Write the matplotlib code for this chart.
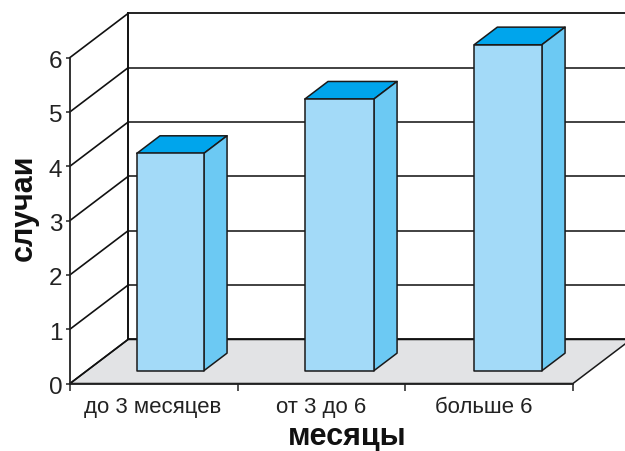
import matplotlib
matplotlib.use("Agg")
import matplotlib.pyplot as plt
from matplotlib.patches import Polygon
from matplotlib.transforms import ScaledTranslation

plt.rcParams["font.family"] = ["Liberation Sans", "DejaVu Sans"]

categories = ["до 3 месяцев", "от 3 до 6", "больше 6"]
cases = [4, 5, 6]
y_ticks = [0, 1, 2, 3, 4, 5, 6]

W, H = 625, 451
# oblique offset of the back wall, in data units
DX = 58 / 167.67
DY = 44 / 54.33
DARK = "#1a1a1a"


def skew(x, y, d):
    """Moves a point (x, y) to depth d (0 front, 1 back)"""
    return (x + d * DX, y + d * DY)


def quad(ax, pts, color, z, lw=1.1):
    ax.add_patch(Polygon(pts, closed=True, facecolor=color, edgecolor=DARK,
                         linewidth=lw, joinstyle="round", zorder=z, clip_on=False))


fig = plt.figure(figsize=(W / 100, H / 100), dpi=100)
ax = fig.add_axes([70 / W, (H - 383.5) / H, 503 / W, 326 / H])
ax.set_xlim(0, 3)
ax.set_ylim(0, 6)
ax.patch.set_visible(False)

# floor
quad(ax, [skew(0, 0, 0), skew(3, 0, 0), skew(3, 0, 1), skew(0, 0, 1)], "#e2e3e5", 1)

# back wall lines and the side wall lines
for v in y_ticks:
    ax.plot([skew(0, v, 1)[0], skew(3, v, 1)[0]], [skew(0, v, 1)[1]] * 2,
            color="#333333" if 0 < v < 6 else "#111111", lw=1.3, zorder=2, clip_on=False)
    ax.plot([0, skew(0, v, 1)[0]], [v, skew(0, v, 1)[1]],
            color="#111111", lw=1.2, zorder=2, clip_on=False)
ax.plot([DX, DX], [DY, 6 + DY], color="#111111", lw=1.4, zorder=2, clip_on=False)

# bars
bar_left = [0.298, 1.30, 2.31]
bar_width = [0.4, 0.412, 0.404]
d0, d1 = 0.29, 0.69
for left, width, v in zip(bar_left, bar_width, cases):
    right = left + width
    quad(ax, [skew(left, v, d0), skew(right, v, d0), skew(right, v, d1), skew(left, v, d1)], "#00a5ec", 3)
    quad(ax, [skew(right, 0, d0), skew(right, 0, d1), skew(right, v, d1), skew(right, v, d0)], "#6cc9f3", 3)
    quad(ax, [skew(left, 0, d0), skew(right, 0, d0), skew(right, v, d0), skew(left, v, d0)], "#a3daf8", 4)

for side in ["top", "right"]:
    ax.spines[side].set_visible(False)
for side in ["left", "bottom"]:
    ax.spines[side].set_linewidth(1.3)
    ax.spines[side].set_color("#222222")
    ax.spines[side].set_zorder(5)

ax.set_yticks(y_ticks)
ax.tick_params(axis="y", length=3, width=1.1, pad=2.5, labelsize=17.5, labelcolor="#222222", color="#222222")
# digits sit a little below their ticks
for label in ax.get_yticklabels():
    label.set_transform(label.get_transform() + ScaledTranslation(0, -2 / 100, fig.dpi_scale_trans))
ax.set_xticks([0, 1, 2, 3])
ax.set_xticklabels([])
ax.tick_params(axis="x", which="major", length=5, width=1.1, color="#222222")
ax.set_xticks([0.49, 1.5, 2.47], minor=True)
ax.set_xticklabels(categories, minor=True)
ax.tick_params(axis="x", which="minor", length=0, pad=10, labelsize=16, labelcolor="#222222")

fig.text(347.5 / W, 1 - 437 / H, "месяцы", fontsize=22, fontweight="bold",
         ha="center", va="center", color="#111111")
fig.text(24 / W, 1 - 208 / H, "случаи", fontsize=22, fontweight="bold",
         rotation=90, ha="center", va="center", color="#111111")

fig.savefig("out.png", dpi=100)
